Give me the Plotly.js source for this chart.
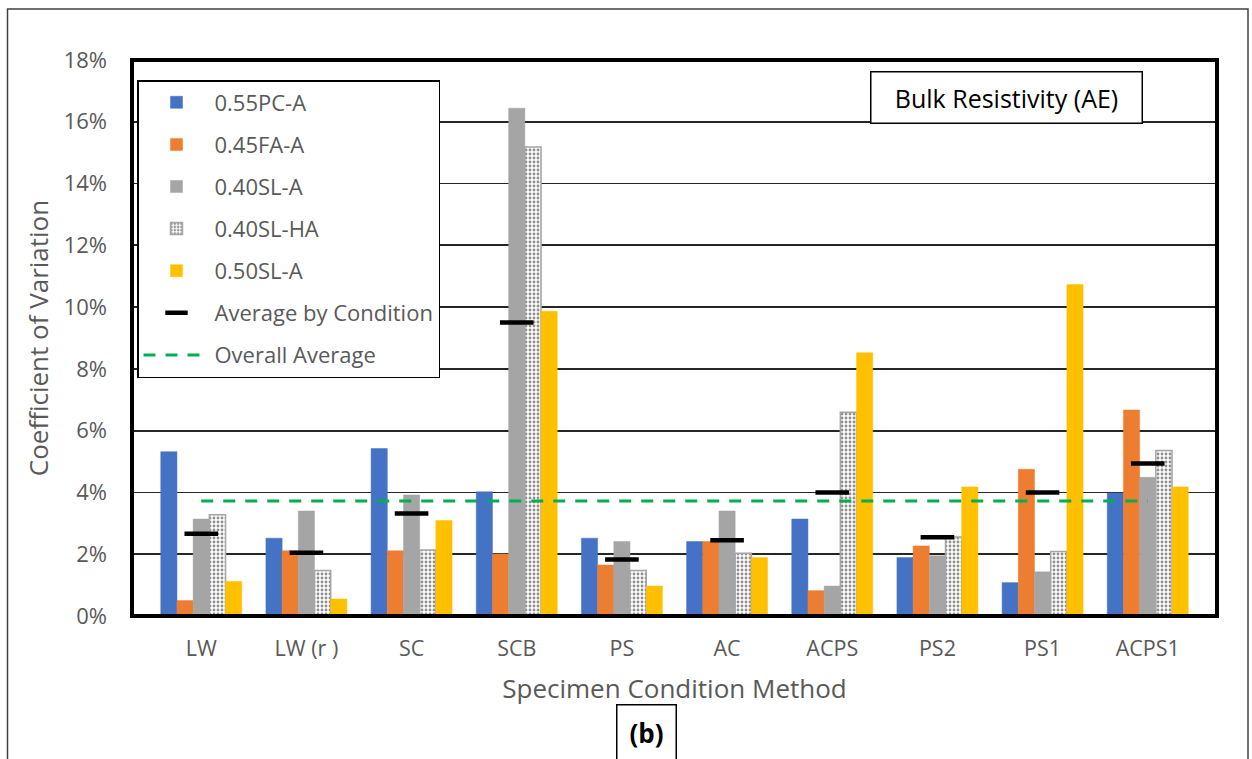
<!DOCTYPE html>
<html>
<head>
<meta charset="utf-8">
<script src="https://cdn.plot.ly/plotly-3.0.1.min.js"></script>
<style>html,body{margin:0;padding:0;background:#fff;}#chart{width:1252px;height:759px;}</style>
</head>
<body>
<div id="chart"></div>
<script>
const categories = ["LW", "LW (r )", "SC", "SCB", "PS", "AC", "ACPS", "PS2", "PS1", "ACPS1"];
const pc055A = [5.32, 2.52, 5.42, 4.02, 2.52, 2.41, 3.14, 1.89, 1.08, 3.98];
const fa045A = [0.50, 2.11, 2.11, 2.01, 1.65, 2.41, 0.82, 2.27, 4.75, 6.67];
const sl040A = [3.14, 3.40, 3.92, 16.44, 2.41, 3.40, 0.97, 1.95, 1.43, 4.49];
const sl040HA = [3.28, 1.47, 2.14, 15.18, 1.47, 2.03, 6.60, 2.56, 2.09, 5.36];
const sl050A = [1.12, 0.55, 3.09, 9.87, 0.97, 1.89, 8.52, 4.18, 10.73, 4.18];
const avgByCondition = [2.66, 2.05, 3.32, 9.50, 1.83, 2.45, 4.00, 2.55, 4.00, 4.94];
const overallAverage = [3.72, 3.72, 3.72, 3.72, 3.72, 3.72, 3.72, 3.72, 3.72, 3.72];
const seriesNames = ["0.55PC-A", "0.45FA-A", "0.40SL-A", "0.40SL-HA", "0.50SL-A"];
const yTickVals = [0, 2, 4, 6, 8, 10, 12, 14, 16, 18];

const FONT = "'Open Sans', Lato, sans-serif";
const GREY = "#595959";

function bar(name, y, color, extra) {
  return {
    type: "bar", name: name, x: categories, y: y, legendgroup: name,
    marker: Object.assign({color: color, line: {color: color, width: 0.5}}, extra || {})
  };
}

const traces = [
  bar(seriesNames[0], pc055A, "#4472C4"),
  bar(seriesNames[1], fa045A, "#ED7D31"),
  bar(seriesNames[2], sl040A, "#A5A5A5"),
  bar(seriesNames[3], sl040HA, "#FFFFFF", {
    pattern: {shape: ".", fgcolor: "#8f8f8f", bgcolor: "#FFFFFF", size: 4, solidity: 0.4},
    line: {color: "#A5A5A5", width: 1.5}
  }),
  bar(seriesNames[4], sl050A, "#FFC000"),
  {
    type: "scatter", mode: "markers", name: "Average by Condition", legendgroup: "avg",
    x: categories, y: avgByCondition,
    marker: {symbol: "line-ew", size: 24, color: "#000", line: {color: "#000", width: 4.5}}
  },
  {
    type: "scatter", mode: "lines", name: "Overall Average", legendgroup: "overall",
    x: categories, y: overallAverage,
    line: {color: "#00B050", width: 3, dash: "12px,10px"}
  }
];

const L = 132, R = 1217, T = 60, B = 616;
const W = R - L, H = B - T;
const px = v => (v - L) / W;
const py = v => (B - v) / H;

const layout = {
  width: 1252, height: 759,
  margin: {l: L, r: 1252 - R, t: T, b: 759 - B, pad: 0},
  paper_bgcolor: "#fff", plot_bgcolor: "#fff",
  font: {family: FONT, color: GREY, size: 22},
  barmode: "group", bargap: 0.23, bargroupgap: 0,
  showlegend: true,
  legend: {
    x: px(137), y: py(80), xanchor: "left", yanchor: "top",
    bgcolor: "#fff", bordercolor: "#000", borderwidth: 1.5,
    font: {family: FONT, size: 22, color: GREY},
    tracegroupgap: 10.5, traceorder: "grouped", itemwidth: 66
  },
  xaxis: {
    type: "category", showgrid: false, zeroline: false, showline: false,
    ticks: "", tickfont: {family: FONT, size: 21.5, color: GREY},
    ticklabelstandoff: 17,
    title: {text: "Specimen Condition Method", font: {family: FONT, size: 26, color: GREY}, standoff: 19}
  },
  yaxis: {
    range: [0, 18], tickvals: yTickVals, ticktext: yTickVals.map(v => v + "%"),
    showgrid: true, gridcolor: "#262626", gridwidth: 1.8, zeroline: false, showline: false,
    ticks: "", tickfont: {family: FONT, size: 22, color: GREY}, ticklabelstandoff: 24,
    title: {text: "Coefficient of Variation", font: {family: FONT, size: 26, color: GREY}, standoff: 7}
  },
  shapes: [
    {type: "rect", xref: "paper", yref: "paper", x0: 0, x1: 1, y0: 0, y1: 1,
     line: {color: "#000", width: 4}, layer: "above"},
    {type: "rect", xref: "paper", yref: "paper", x0: px(7.5), x1: px(1248), y0: py(790), y1: py(9),
     line: {color: "#404040", width: 1.5}, layer: "below"}
  ],
  annotations: [
    {xref: "paper", yref: "paper", x: px(1006), y: py(97.5), xanchor: "center", yanchor: "middle",
     text: "Bulk Resistivity (AE)", showarrow: false, font: {family: FONT, size: 25, color: "#000"},
     bgcolor: "#fff", bordercolor: "#000", borderwidth: 1.5, width: 268, height: 48},
    {xref: "paper", yref: "paper", x: px(646), y: py(704), xanchor: "center", yanchor: "top",
     text: "<b>(b)</b>", showarrow: false, font: {family: FONT, size: 26, color: "#000"},
     bgcolor: "#fff", bordercolor: "#000", borderwidth: 1.5, width: 56, height: 52, valign: "middle"}
  ]
};

Plotly.newPlot("chart", traces, layout, {displayModeBar: false, staticPlot: true});
</script>
</body>
</html>
